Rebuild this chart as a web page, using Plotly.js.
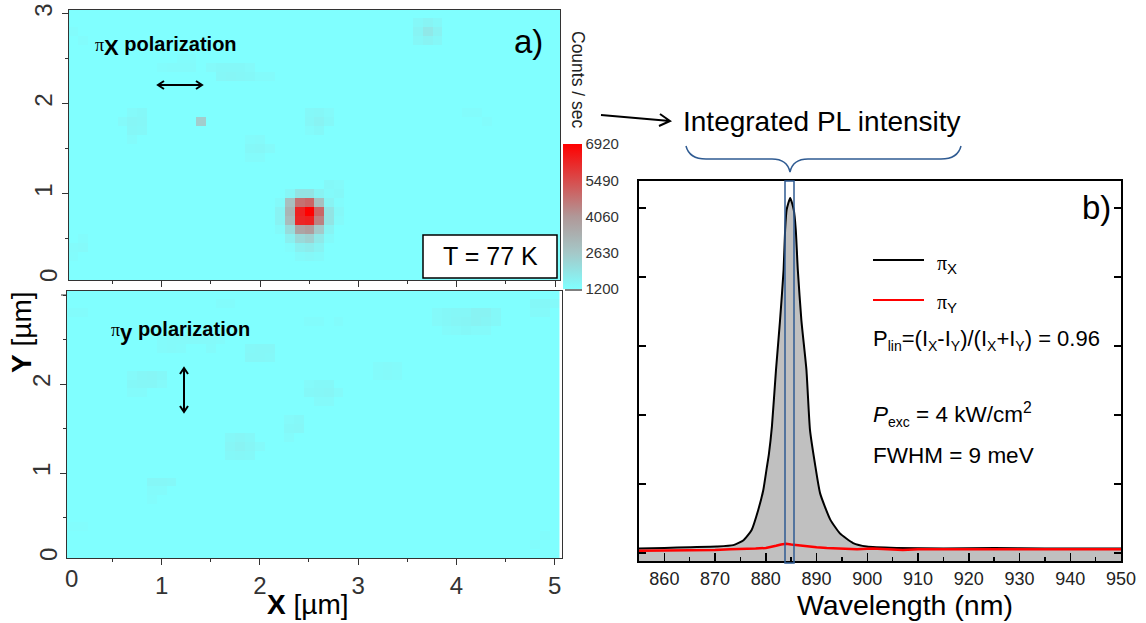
<!DOCTYPE html>
<html>
<head>
<meta charset="utf-8">
<script src="https://cdn.plot.ly/plotly-3.0.1.min.js"></script>
<style>html,body{margin:0;padding:0;background:#fff}#c{width:1146px;height:623px}</style>
</head>
<body>
<div id="c"></div>
<script>
// ---------- data ----------
const mapX = [0,0.1,0.2,0.3,0.4,0.5,0.6,0.7,0.8,0.9,1,1.1,1.2,1.3,1.4,1.5,1.6,1.7,1.8,1.9,2,2.1,2.2,2.3,2.4,2.5,2.6,2.7,2.8,2.9,3,3.1,3.2,3.3,3.4,3.5,3.6,3.7,3.8,3.9,4,4.1,4.2,4.3,4.4,4.5,4.6,4.7,4.8,4.9,5];
const mapY = [0,0.1,0.2,0.3,0.4,0.5,0.6,0.7,0.8,0.9,1,1.1,1.2,1.3,1.4,1.5,1.6,1.7,1.8,1.9,2,2.1,2.2,2.3,2.4,2.5,2.6,2.7,2.8,2.9,3];
const background = 1210;
// [x, y, counts] for the cells that stand out from the background
const cellsX = [
 [2.4,0.3,1320],[2.5,0.3,1380],[2.6,0.3,1320],
 [2.4,0.4,1600],[2.5,0.4,1700],[2.6,0.4,1500],[2.3,0.4,1290],
 [2.3,0.5,1600],[2.4,0.5,2200],[2.5,0.5,2400],[2.6,0.5,1800],[2.7,0.5,1320],
 [2.2,0.6,1320],[2.3,0.6,2100],[2.4,0.6,3700],[2.5,0.6,3900],[2.6,0.6,2600],[2.7,0.6,1500],
 [2.2,0.7,1500],[2.3,0.7,3000],[2.4,0.7,6200],[2.5,0.7,6300],[2.6,0.7,4500],[2.7,0.7,1900],[2.8,0.7,1340],
 [2.2,0.8,1500],[2.3,0.8,3200],[2.4,0.8,6300],[2.5,0.8,6920],[2.6,0.8,5000],[2.7,0.8,1900],[2.8,0.8,1380],
 [2.2,0.9,1320],[2.3,0.9,2900],[2.4,0.9,4800],[2.5,0.9,5000],[2.6,0.9,2900],[2.7,0.9,1500],[2.8,0.9,1290],
 [2.3,1.0,1400],[2.4,1.0,1900],[2.5,1.0,1900],[2.6,1.0,1500],[2.7,1.0,1330],[2.8,1.0,1370],
 [2.7,1.1,1370],[2.8,1.1,1340],
 [1.4,1.8,2500],
 [3.6,2.9,1370],[3.7,2.9,1480],[3.8,2.9,1370],
 [3.6,2.8,1480],[3.7,2.8,1800],[3.8,2.8,1550],
 [3.6,2.7,1400],[3.7,2.7,1500],[3.8,2.7,1400],
 [1.5,2.4,1340],[1.6,2.4,1370],[1.7,2.4,1370],[1.8,2.4,1370],[1.9,2.4,1340],
 [1.6,2.3,1400],[1.7,2.3,1430],[1.8,2.3,1400],[1.9,2.3,1370],[2.0,2.3,1310],[2.1,2.3,1310],
 [1.0,2.4,1280],[1.1,2.4,1310],[1.2,2.4,1310],[1.3,2.4,1310],
 [1.3,2.5,1280],[1.2,2.5,1280],
 [0.7,1.9,1340],[0.8,1.9,1370],[0.6,1.8,1340],[0.7,1.8,1430],[0.8,1.8,1400],[0.7,1.7,1400],[0.8,1.7,1370],[0.7,1.6,1310],
 [1.9,1.6,1310],[2.0,1.6,1340],[1.9,1.5,1370],[2.0,1.5,1400],[2.1,1.5,1340],[1.9,1.4,1310],[2.0,1.4,1310],
 [2.5,1.9,1370],[2.6,1.9,1400],[2.7,1.9,1340],[2.5,1.8,1400],[2.6,1.8,1500],[2.7,1.8,1370],[2.6,1.7,1370],[2.5,1.7,1310],
 [0.1,0.4,1310],[0.2,0.4,1340],[0.1,0.3,1280],[0.2,0.5,1280],
 [0.1,2.8,1280],[0.2,2.7,1280],
 [4.1,1.9,1280],[4.2,1.9,1280],[4.3,1.8,1280]
];
const cellsY = [
 [1.0,2.5,1310],[1.1,2.5,1340],[1.2,2.5,1340],[1.3,2.5,1340],[1.4,2.5,1340],[1.5,2.5,1340],[1.6,2.5,1310],
 [1.0,2.4,1310],[1.1,2.4,1340],[1.2,2.4,1310],[1.5,2.4,1310],
 [1.9,2.4,1370],[2.0,2.4,1400],[2.1,2.4,1400],[1.9,2.3,1400],[2.0,2.3,1400],[2.1,2.3,1370],
 [1.6,2.9,1280],[1.7,2.9,1280],
 [0.7,2.1,1340],[0.8,2.1,1400],[0.9,2.1,1430],[1.0,2.1,1370],
 [0.7,2.0,1370],[0.8,2.0,1400],[0.9,2.0,1400],[1.0,2.0,1340],[0.7,1.9,1310],[0.8,1.9,1310],
 [1.7,1.4,1370],[1.8,1.4,1430],[1.9,1.4,1370],
 [1.7,1.3,1430],[1.8,1.3,1500],[1.9,1.3,1430],[2.0,1.3,1340],
 [1.7,1.2,1370],[1.8,1.2,1400],[1.9,1.2,1370],
 [0.9,0.9,1400],[1.0,0.9,1400],[1.1,0.9,1370],[0.9,0.8,1310],[1.0,0.8,1310],[0.9,0.7,1280],
 [3.8,2.8,1340],[3.9,2.8,1370],[4.0,2.8,1400],[4.1,2.8,1400],[4.2,2.8,1500],[4.3,2.8,1500],[4.4,2.8,1370],
 [3.8,2.7,1340],[3.9,2.7,1370],[4.0,2.7,1430],[4.1,2.7,1450],[4.2,2.7,1500],[4.3,2.7,1450],[4.4,2.7,1370],
 [3.9,2.6,1310],[4.0,2.6,1340],[4.1,2.6,1370],[4.2,2.6,1340],[4.3,2.6,1340],
 [4.8,2.9,1370],[4.9,2.9,1370],[5.0,2.9,1340],[4.8,2.8,1340],[4.9,2.8,1340],
 [2.5,2.0,1340],[2.6,2.0,1370],[2.7,2.0,1370],[2.5,1.9,1370],[2.6,1.9,1400],[2.7,1.9,1430],[2.8,1.9,1340],[2.6,1.8,1340],[2.7,1.8,1340],
 [2.3,1.6,1340],[2.4,1.6,1370],[2.3,1.5,1370],[2.4,1.5,1400],[2.3,1.4,1310],
 [3.2,2.2,1310],[3.3,2.2,1340],[3.4,2.2,1310],[3.2,2.1,1310],[3.3,2.1,1340],[3.4,2.1,1310],
 [2.5,2.7,1280],[2.6,2.7,1280],[2.8,2.7,1280],
 [0.1,2.8,1280],[0.2,2.8,1280],[0.1,0.4,1260],[0.2,0.4,1260],
 [4.8,0.2,1270],[4.9,0.3,1270]
];
const colorTicks = [1200,2630,4060,5490,6920];

const wavelength = [855,860,865,870.3,873.6,875.6,877.2,878.5,879.5,880.2,880.6,881.2,882,882.8,883.5,883.8,884.1,884.8,885.5,885.9,886.3,887,888,888.7,889.7,890.7,892.7,894.6,897.2,899.9,905.8,915,925,935,950];
const intensityX = [0.18,0.19,0.20,0.21,0.23,0.30,0.45,0.74,1.03,1.36,1.55,1.95,2.77,3.49,4.22,4.80,5.09,5.26,5.09,4.80,4.22,3.49,2.77,1.90,1.40,0.98,0.60,0.40,0.26,0.21,0.19,0.18,0.19,0.18,0.18];
const wavelengthY = [855,858,861,864,867,870,873,876,878,880,881,882,883,884,885,886,887,888,890,892,895,898,901,904,907,910,913,916,919,922,925,928,931,934,937,940,943,946,950];
const intensityY = [0.15,0.15,0.16,0.15,0.16,0.16,0.17,0.17,0.18,0.19,0.20,0.22,0.24,0.25,0.24,0.23,0.22,0.21,0.20,0.19,0.18,0.17,0.18,0.17,0.16,0.17,0.17,0.16,0.17,0.17,0.16,0.17,0.16,0.17,0.16,0.17,0.16,0.17,0.17];
const lambdaTicks = [860,870,880,890,900,910,920,930,940,950];

// ---------- build ----------
function grid(cells){
  const z = mapY.map(()=>mapX.map(()=>background));
  cells.forEach(c=>{ z[Math.round(c[1]*10)][Math.round(c[0]*10)] = c[2]; });
  return z;
}
const W=1146,H=623;
const px=v=>v/W, py=v=>1-v/H;
const FONT='"Liberation Sans", Arial, sans-serif';
const scale=[[0,'#80ffff'],[0.25,'#a5c8c8'],[0.5,'#b09898'],[0.75,'#d84c4c'],[1,'#ff0000']];

const traces=[
 {type:'heatmap',x:mapX,y:mapY,z:grid(cellsX),xaxis:'x',yaxis:'y',zmin:1200,zmax:6920,colorscale:scale,zsmooth:false,hoverinfo:'skip',
  colorbar:{x:px(563),xanchor:'left',xpad:0,y:py(144),yanchor:'top',ypad:0,lenmode:'pixels',len:145,thicknessmode:'pixels',thickness:19,
   outlinewidth:0,tickmode:'array',tickvals:colorTicks,ticktext:colorTicks.map(String),ticks:'',tickfont:{family:FONT,size:15,color:'#333'}}},
 {type:'heatmap',x:mapX,y:mapY,z:grid(cellsY),xaxis:'x2',yaxis:'y2',zmin:1200,zmax:6920,colorscale:scale,zsmooth:false,showscale:false,hoverinfo:'skip'},
 {type:'scatter',mode:'lines',name:'πX',x:wavelength,y:intensityX,xaxis:'x3',yaxis:'y3',fill:'tozeroy',fillcolor:'#c0c0c0',line:{color:'#000',width:2,shape:'spline',smoothing:0.5},showlegend:false},
 {type:'scatter',mode:'lines',name:'πY',x:wavelengthY,y:intensityY,xaxis:'x3',yaxis:'y3',line:{color:'#ff0000',width:2.5},showlegend:false}
];

function text(x,y,t,size,opt){
  return Object.assign({xref:'paper',yref:'paper',x:px(x),y:py(y),text:t,showarrow:false,xanchor:'left',yanchor:'middle',borderpad:0,borderwidth:0,
    font:{family:FONT,size:size,color:'#000'}},opt||{});
}
const pi=s=>'<span style="font-family:\'Liberation Serif\';font-size:'+s+'px;font-weight:normal">π</span>';
const sub=(t,s)=>'<sub><span style="font-size:'+s+'px">'+t+'</span></sub>';
const I=t=>'I'+sub(t,14);
const TICKFONT={family:FONT,size:24,color:'#333'};

const annotations=[
 text(95,47,'<b>'+pi(18)+sub('X',22)+' polarization</b>',20),
 text(111,331,'<b>'+pi(18)+sub('y',22)+' polarization</b>',20),
 text(514,42,'a)',33),
 text(1082,207,'b)',33),
 text(490,256,'T = 77 K',25,{xanchor:'center'}),
 text(683,122,'Integrated PL intensity',28),
 text(578,80,'Counts / sec',17.5,{xanchor:'center',textangle:90,font:{family:FONT,size:17.5,color:'#222'}}),
 text(937,264,pi(20)+sub('X',15),20),
 text(937,304,pi(20)+sub('Y',15),20),
 text(873,340,'P'+sub('lin',14)+'=('+I('X')+'-'+I('Y')+')/('+I('X')+'+'+I('Y')+') = 0.96',22),
 text(873,414,'<i>P</i>'+sub('exc',14)+' = 4 kW/cm<sup>2</sup>',22.5),
 text(873,455,'FWHM = 9 meV',22.5),
 text(21,333,'<b>Y</b> [µm]',28,{xanchor:'center',textangle:-90}),
 text(307,604,'<b>X</b> [µm]',28,{xanchor:'center'}),
 text(905,605,'Wavelength (nm)',28.5,{xanchor:'center'}),
 text(71,578,'0',24,{xanchor:'center',font:TICKFONT}),
 text(48,276,'0',24,{xanchor:'center',textangle:-90,font:TICKFONT}),
 text(48,555,'0',24,{xanchor:'center',textangle:-90,font:TICKFONT})
];

const BLUE='#2f5b92';
const P=(x,y)=>px(x)+','+py(y);
const ARROW={type:'path',xref:'paper',yref:'paper',line:{color:'#000',width:2}};
const shapes=[
 {type:'rect',xref:'paper',yref:'paper',x0:px(423),x1:px(557),y0:py(235),y1:py(278),fillcolor:'#fff',line:{color:'#000',width:1.5}},
 {type:'rect',xref:'paper',yref:'paper',x0:px(785),x1:px(794),y0:py(181),y1:py(563),fillcolor:'rgba(0,0,0,0)',line:{color:BLUE,width:1.5}},
 {type:'path',xref:'paper',yref:'paper',line:{color:BLUE,width:1.5},
  path:'M'+P(686,146)+' C'+P(688,154)+' '+P(695,159)+' '+P(706,159)+' L'+P(772,159)+' C'+P(782,159)+' '+P(788,163)+' '+P(790,172)+
       ' C'+P(792,163)+' '+P(798,159)+' '+P(808,159)+' L'+P(941,159)+' C'+P(952,159)+' '+P(959,154)+' '+P(961,146)},
 {type:'line',xref:'paper',yref:'paper',x0:px(873),x1:px(924),y0:py(260),y1:py(260),line:{color:'#000',width:2}},
 {type:'line',xref:'paper',yref:'paper',x0:px(873),x1:px(924),y0:py(300),y1:py(300),line:{color:'#ff0000',width:2}},
 {type:'line',xref:'paper',yref:'paper',x0:px(565),x1:px(582),y0:py(290),y1:py(290),line:{color:'#000',width:1}},
 {type:'line',xref:'paper',yref:'paper',x0:px(61),x1:px(67),y0:py(295),y1:py(295),line:{color:'#333',width:1}},
 Object.assign({},ARROW,{path:'M'+P(158,85)+' L'+P(202,85)+' M'+P(164,81)+' L'+P(158,85)+' L'+P(164,89)+' M'+P(196,81)+' L'+P(202,85)+' L'+P(196,89)}),
 Object.assign({},ARROW,{path:'M'+P(184,368)+' L'+P(184,412)+' M'+P(180,374)+' L'+P(184,368)+' L'+P(188,374)+' M'+P(180,406)+' L'+P(184,412)+' L'+P(188,406)}),
 Object.assign({},ARROW,{path:'M'+P(601,115)+' L'+P(670,121)+' M'+P(660,114)+' L'+P(670,121)+' L'+P(659,126)})
];

const mapAxis={showgrid:false,zeroline:false,showline:true,linecolor:'#333',linewidth:1,mirror:true,ticks:'outside',ticklen:6,tickwidth:1,tickcolor:'#333',
  tickfont:TICKFONT,minor:{dtick:0.5,ticks:'outside',ticklen:3,tickwidth:1,tickcolor:'#333',showgrid:false}};

const layout={
 width:W,height:H,margin:{l:0,r:0,t:0,b:0},paper_bgcolor:'#fff',plot_bgcolor:'#fff',showlegend:false,font:{family:FONT},
 xaxis:Object.assign({},mapAxis,{domain:[px(69),px(560)],range:[0.057,5.05],anchor:'y',tickmode:'array',tickvals:[1,2,3,4,5],showticklabels:false}),
 yaxis:Object.assign({},mapAxis,{domain:[py(280),py(10)],range:[0.04,3.04],anchor:'x',tickmode:'array',tickvals:[1,2,3],ticktext:['1','2','3'],tickangle:-90}),
 xaxis2:Object.assign({},mapAxis,{domain:[px(67),px(561.5)],range:[0.037,5.07],anchor:'y2',tickmode:'array',tickvals:[1,2,3,4,5]}),
 yaxis2:Object.assign({},mapAxis,{domain:[py(558),py(291)],range:[0.045,3.045],anchor:'x2',tickmode:'array',tickvals:[1,2],ticktext:['1','2'],tickangle:-90}),
 xaxis3:{domain:[px(639),px(1121)],range:[855,950],anchor:'y3',showgrid:false,zeroline:false,showline:true,linecolor:'#000',linewidth:2,mirror:true,
   ticks:'inside',ticklen:8,tickwidth:1.5,tickcolor:'#000',tickmode:'array',tickvals:lambdaTicks,tickfont:{family:FONT,size:18,color:'#222'},
   minor:{dtick:5,ticks:'inside',ticklen:4,tickwidth:1.5,tickcolor:'#000',showgrid:false}},
 yaxis3:{domain:[py(561),py(181)],range:[0,5.507],anchor:'x3',showgrid:false,zeroline:false,showline:true,linecolor:'#000',linewidth:2,mirror:'allticks',
   ticks:'inside',ticklen:7,tickwidth:1.5,tickcolor:'#000',tick0:0.116,dtick:1,showticklabels:false},
 annotations:annotations,shapes:shapes
};
Plotly.newPlot('c',traces,layout,{displayModeBar:false,staticPlot:true});
</script>
</body>
</html>
